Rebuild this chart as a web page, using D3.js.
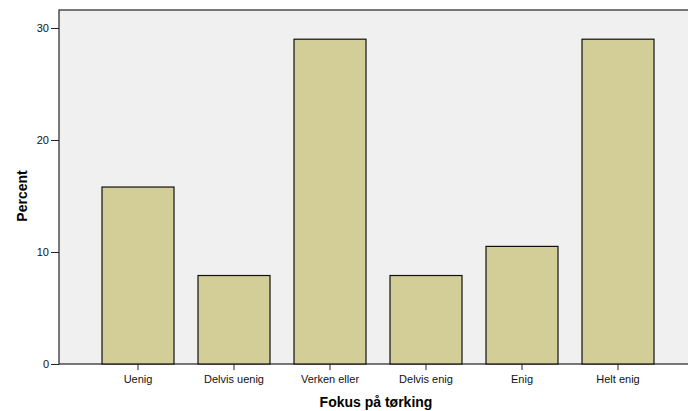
<!DOCTYPE html>
<html><head><meta charset="utf-8">
<script src="https://cdn.jsdelivr.net/npm/d3@7"></script>
<style>body{margin:0;background:#fff}svg{display:block}</style>
</head><body>
<script>
const categories = ["Uenig","Delvis uenig","Verken eller","Delvis enig","Enig","Helt enig"];
const percents = [15.8, 7.9, 29.0, 7.9, 10.5, 29.0];
const yTicks = [0, 10, 20, 30];

const W = 688, H = 411;
const frame = {left: 59, top: 10, right: 697, bottom: 364};
const svg = d3.select("body").append("svg").attr("width", W).attr("height", H);

const x = d3.scaleBand().domain(categories).range([90, 666]).paddingInner(0.25).paddingOuter(0.125);
const y = d3.scaleLinear().domain([0, 30]).range([364, 28]);

svg.append("rect").attr("x", frame.left).attr("y", frame.top)
  .attr("width", frame.right - frame.left).attr("height", frame.bottom - frame.top)
  .attr("fill", "#f0f0f0").attr("stroke", "#222").attr("stroke-width", 1.2);

svg.selectAll("rect.bar").data(percents).enter().append("rect").attr("class","bar")
  .attr("x", (d,i) => x(categories[i]))
  .attr("y", d => y(d))
  .attr("width", x.bandwidth())
  .attr("height", d => y(0) - y(d))
  .attr("fill", "#d3ce97").attr("stroke", "#111").attr("stroke-width", 1.2);

const yAxis = svg.append("g").attr("transform", `translate(${frame.left},0)`)
  .call(d3.axisLeft(y).tickValues(yTicks).tickSize(8).tickPadding(2).tickFormat(d3.format("d")));
yAxis.select(".domain").remove();
yAxis.selectAll("line").attr("stroke", "#222");
yAxis.selectAll("text").attr("font-family", "Liberation Sans, Arial, sans-serif").attr("font-size", 11).attr("fill", "#111");

const xAxis = svg.append("g").attr("transform", `translate(0,${frame.bottom})`)
  .call(d3.axisBottom(x).tickSize(6).tickPadding(5));
xAxis.select(".domain").remove();
xAxis.selectAll("line").attr("stroke", "#222");
xAxis.selectAll("text").attr("font-family", "Liberation Sans, Arial, sans-serif").attr("font-size", 11).attr("fill", "#111");

svg.append("text").attr("x", 376).attr("y", 407).attr("text-anchor", "middle")
  .attr("font-family", "Liberation Sans, Arial, sans-serif").attr("font-weight", "bold").attr("font-size", 14)
  .text("Fokus på tørking");
svg.append("text").attr("transform", "translate(27,196) rotate(-90)").attr("text-anchor", "middle")
  .attr("font-family", "Liberation Sans, Arial, sans-serif").attr("font-weight", "bold").attr("font-size", 14)
  .text("Percent");
</script>
</body></html>
